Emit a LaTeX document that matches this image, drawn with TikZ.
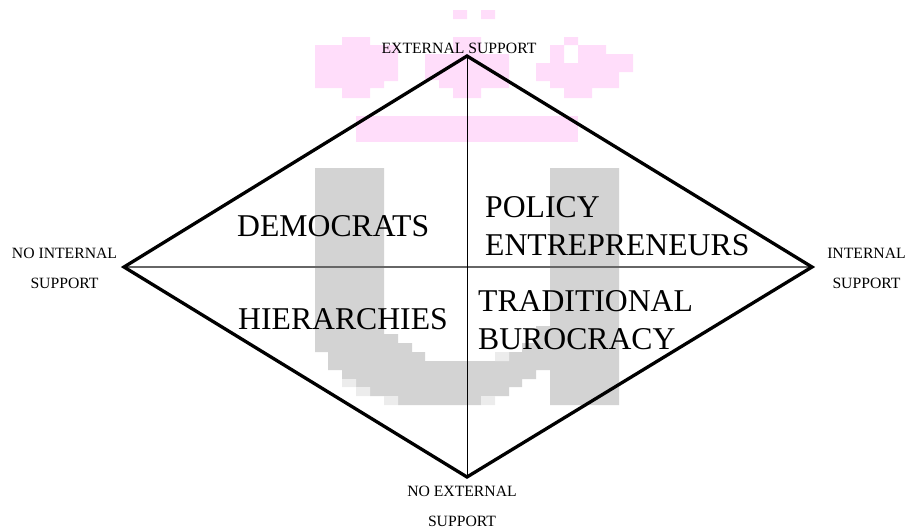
\documentclass[tikz,border=0pt]{standalone}
\usepackage{fontspec}
\setmainfont{Liberation Serif}
\definecolor{logopink}{RGB}{255,221,250}
\definecolor{logogray}{RGB}{211,211,211}
\definecolor{logolight}{RGB}{236,236,236}
\begin{document}
\begin{tikzpicture}[x=1pt,y=-1pt,
  frame/.style={line width=3.3pt,line join=miter},
  axisv/.style={line width=1pt,black},
  axish/.style={line width=1.1pt,black!60},
  % multi-line nodes sit on the baseline of their last line
  corner/.style={font=\fontsize{15.7}{30}\selectfont,align=center,inner sep=0pt,anchor=base},
  quadrant/.style={font=\fontsize{31.7}{38}\selectfont,align=left,inner sep=0pt,anchor=base west},
  pinkpx/.style={fill=logopink},
  graypx/.style={fill=logogray},
  lightpx/.style={fill=logolight}]
\useasboundingbox (0,0) rectangle (908,528);

% logo, pink part
\fill[pinkpx] (453,10) rectangle (467,19) (481,10) rectangle (495,19);
\fill[pinkpx] (342,37) rectangle (370,45) (315,45) rectangle (398,81)
              (315,81) rectangle (384,88) (342,88) rectangle (370,98);
\fill[pinkpx] (453,37) rectangle (481,54) (425,54) rectangle (509,80)
              (439,80) rectangle (509,88) (453,88) rectangle (481,98);
\fill[pinkpx] (564,37) rectangle (578,45) (550,45) rectangle (564,63)
              (578,45) rectangle (606,54) (578,54) rectangle (633,72)
              (536,63) rectangle (619,81) (550,81) rectangle (619,88)
              (564,88) rectangle (592,98);
\fill[pinkpx] (356,116) rectangle (578,142);

% logo, gray part
\fill[graypx] (315,168) rectangle (384,334) (315,334) rectangle (398,343)
              (315,343) rectangle (412,352) (328,352) rectangle (425,361)
              (328,361) rectangle (550,370) (342,370) rectangle (536,379)
              (356,379) rectangle (522,387) (370,387) rectangle (509,396)
              (398,396) rectangle (481,405);
\fill[graypx] (550,168) rectangle (619,405) (536,326) rectangle (550,361)
              (522,343) rectangle (550,361) (509,352) rectangle (550,361);
\fill[lightpx] (342,379) rectangle (356,387) (356,387) rectangle (370,396)
               (384,396) rectangle (398,405) (481,396) rectangle (495,405)
               (495,352) rectangle (509,361);

% diamond
\coordinate (top) at (467,56);
\coordinate (left) at (124,267);
\coordinate (right) at (812,267);
\coordinate (bottom) at (467,477);
\draw[axish] (left) -- (right);
\draw[axisv] (top) -- (bottom);
\draw[frame] (top) -- (right) -- (bottom) -- (left) -- cycle;

% axis labels
\node[corner] (ext) at (459,53) {EXTERNAL SUPPORT};
\node[corner] (noint) at (64.5,288) {NO INTERNAL\\SUPPORT};
\node[corner] (int) at (866.5,288) {INTERNAL\\SUPPORT};
\node[corner] (noext) at (462,526) {NO EXTERNAL\\SUPPORT};

% quadrant labels
\node[quadrant] (dem) at (237,236) {DEMOCRATS};
\node[quadrant] (pol) at (485,255) {POLICY\\ENTREPRENEURS};
\node[quadrant] (hier) at (238,329) {HIERARCHIES};
\node[quadrant] (trad) at (478,349) {TRADITIONAL\\BUROCRACY};
\end{tikzpicture}
\end{document}
